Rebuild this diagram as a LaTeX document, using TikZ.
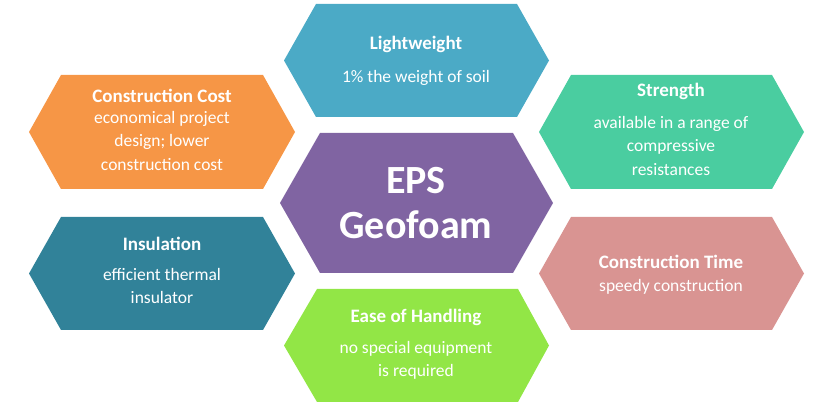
\documentclass[tikz,border=0pt]{standalone}
\usepackage{fontspec}
\setmainfont{Carlito}
\definecolor{cLight}{RGB}{75,170,198}
\definecolor{cCost}{RGB}{246,150,70}
\definecolor{cStr}{RGB}{74,205,160}
\definecolor{cEPS}{RGB}{128,100,162}
\definecolor{cIns}{RGB}{49,130,153}
\definecolor{cTime}{RGB}{217,148,146}
\definecolor{cEase}{RGB}{146,230,70}
\newcommand{\hexa}[7]{\fill[#7] (#1,{406-(#5+#6)/2}) -- (#2,406-#5) -- (#3,406-#5) -- (#4,{406-(#5+#6)/2}) -- (#3,406-#6) -- (#2,406-#6) -- cycle;}
\begin{document}
\begin{tikzpicture}[x=1pt,y=1pt,
  ttl/.style={text=white,font=\fontsize{19}{22}\selectfont\bfseries,inner sep=0pt},
  bdy/.style={text=white,font=\fontsize{17.5}{23.5}\selectfont,align=center,inner sep=0pt}]
\useasboundingbox (0,0) rectangle (833,406);
\hexa{284}{316}{517}{549}{4}{117}{cLight}
\hexa{29}{61}{263}{295}{75}{189}{cCost}
\hexa{539}{571}{772}{804}{75}{189}{cStr}
\hexa{280}{320}{513}{553}{133}{273}{cEPS}
\hexa{29}{61}{263}{295}{217}{330}{cIns}
\hexa{539}{571}{772}{804}{217}{330}{cTime}
\hexa{284}{317}{518}{549}{289}{402}{cEase}
\node[ttl] (lwT) at (416,406-44) {Lightweight};
\node[bdy] (lwB) at (416,406-78) {1\% the weight of soil};
\node[ttl] (ccT) at (162,406-96) {Construction Cost};
\node[bdy,anchor=north] (ccB) at (162,406-111) {economical project\\design; lower\\construction cost};
\node[ttl] (stT) at (671,406-91) {Strength};
\node[bdy,anchor=north] (stB) at (671,406-116) {available in a range of\\compressive\\resistances};
\node[text=white,font=\fontsize{40}{45}\selectfont\bfseries,align=center,inner sep=0pt] (eps) at (416,406-203) {EPS\\Geofoam};
\node[ttl] (inT) at (162,406-244) {Insulation};
\node[bdy,anchor=north] (inB) at (162,406-268) {efficient thermal\\insulator};
\node[ttl] (tmT) at (671,406-262) {Construction Time};
\node[bdy] (tmB) at (671,406-287) {speedy construction};
\node[ttl] (eaT) at (416,406-317) {Ease of Handling};
\node[bdy,anchor=north] (eaB) at (416,406-341) {no special equipment\\is required};
\end{tikzpicture}
\end{document}
